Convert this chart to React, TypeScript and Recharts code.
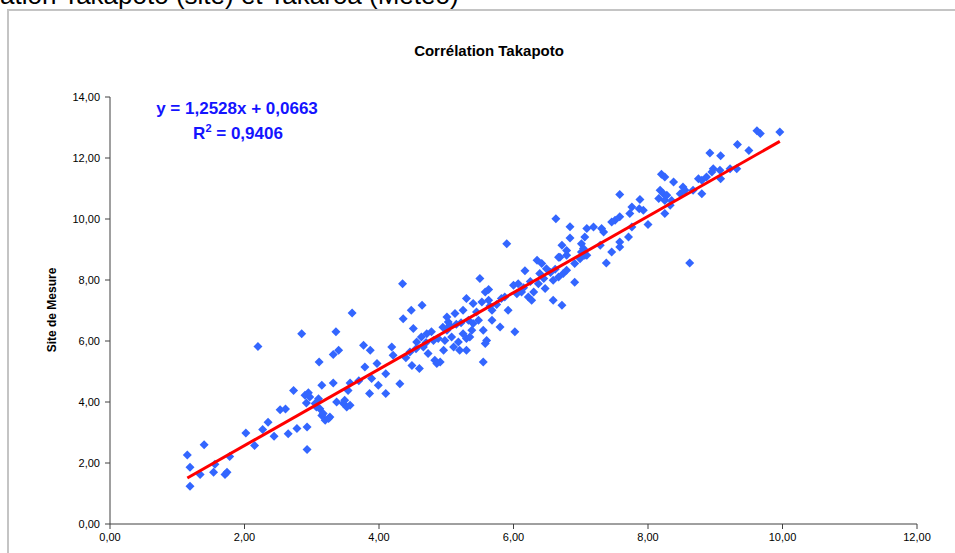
import React from 'react';
import { ScatterChart, Scatter, XAxis, YAxis } from 'recharts';

// Takapoto: meteo station (x) vs measurement site (y)
const meteoValues = [
  1.15, 1.40, 1.19, 1.34, 1.19, 1.54, 1.56, 1.71, 1.74, 1.78, 2.02, 2.15, 2.27, 2.35, 2.44, 2.53, 2.61, 2.65, 2.73, 2.78,
  2.90, 2.95, 2.93, 2.93, 2.92, 3.10, 3.12, 3.15, 3.15, 3.20, 3.27, 3.32, 3.37, 3.47, 3.52, 3.54, 3.57,
  2.85, 3.60, 3.36, 3.11, 3.32, 3.40, 2.97, 3.07, 3.17, 3.25, 3.49, 3.57, 3.77, 3.87, 3.79, 3.89, 3.97, 3.99, 3.86,
  4.10, 4.10, 4.19, 4.31, 4.21, 4.35, 4.36, 4.48, 4.64, 4.51, 4.46, 4.49, 4.60, 4.56, 4.63, 4.71, 4.78, 4.66, 4.73,
  4.83, 4.91, 4.86, 4.88, 4.81, 5.01, 5.03, 5.01, 5.08, 4.98, 4.96, 5.11, 5.18, 5.13, 5.25, 5.30, 5.40, 5.33, 5.40,
  5.48, 5.38, 5.25, 5.30, 5.20, 5.30, 5.35, 5.55, 5.60, 5.58, 5.55, 5.53, 5.63, 5.68, 5.68, 5.80, 5.50, 5.63, 5.58,
  5.92, 6.02, 5.82, 5.87, 6.00, 6.07, 6.17, 6.12, 6.22, 6.27, 6.30, 6.37, 6.39, 6.35, 6.42, 6.49, 6.47, 6.59, 6.72,
  6.59, 6.67, 6.74, 6.79, 6.69, 6.79, 6.91, 6.91, 6.99, 7.06, 7.01,
  9.96, 9.62, 9.67, 9.33, 9.50, 8.92, 9.08, 8.97, 8.95, 9.07, 9.08, 9.22, 9.32, 8.75, 8.80, 8.87, 8.67, 8.80, 8.52,
  8.55, 8.48, 8.38, 8.20, 8.25, 8.18, 8.23, 8.16, 8.25, 8.35, 8.33, 8.25, 8.28, 8.62, 8.00, 7.88, 7.87, 7.76, 7.73,
  7.93, 7.58, 7.58, 7.51, 7.46, 7.76, 7.71, 7.58, 7.58, 7.46, 7.38, 7.31, 7.34, 7.29, 7.19, 7.09, 7.06, 7.01, 6.84,
  6.84, 6.72, 6.79, 6.63, 6.67, 7.04, 7.09, 2.20, 5.90,
  4.95, 5.05, 5.15, 5.22, 5.45, 5.65, 5.75, 6.05, 6.15, 6.25, 6.45, 6.55, 6.62, 4.40, 4.55, 4.70, 3.70, 3.05,
];
const siteValues = [
  2.26, 2.60, 1.86, 1.62, 1.24, 1.70, 1.96, 1.62, 1.70, 2.21, 2.98, 2.57, 3.10, 3.34, 2.88, 3.75, 3.77, 2.96, 4.38, 3.13,
  4.22, 4.30, 3.18, 2.44, 3.97, 4.11, 3.78, 3.56, 4.55, 3.40, 3.51, 4.62, 4.00, 3.95, 3.84, 4.38, 4.62,
  6.24, 6.92, 6.30, 5.31, 5.56, 5.70, 4.16, 3.84, 3.62, 3.46, 4.06, 3.89, 5.86, 5.70, 5.15, 4.77, 5.26, 4.55, 4.28,
  4.93, 4.28, 5.80, 4.60, 5.53, 7.88, 6.73, 7.01, 7.17, 6.41, 5.64, 5.20, 5.10, 5.97, 6.13, 6.24, 6.30, 5.80, 5.59,
  5.37, 5.31, 5.26, 6.08, 6.02, 6.79, 6.62, 6.35, 6.13, 6.02, 5.70, 5.80, 5.97, 6.90, 7.01, 7.39, 7.23, 6.68, 6.57,
  6.68, 6.35, 6.24, 6.08, 5.70, 5.70, 6.13, 6.35, 6.02, 5.92, 5.31, 7.28, 7.34, 7.01, 6.68, 6.46, 8.05, 7.69, 7.61,
  7.01, 6.30, 7.39, 7.44, 7.83, 7.88, 8.30, 7.61, 7.44, 7.34, 7.61, 7.88, 8.21, 8.65, 8.54, 8.37, 7.72, 7.34, 7.17,
  7.99, 8.10, 8.21, 8.32, 8.75, 8.81, 8.54, 7.93, 8.70, 8.81, 8.92,
  12.85, 12.89, 12.80, 12.44, 12.25, 12.16, 12.07, 11.65, 11.54, 11.60, 11.32, 11.65, 11.65, 11.32, 11.27, 11.38, 10.94, 10.83, 11.05,
  10.94, 10.83, 11.21, 11.47, 11.38, 10.94, 10.83, 10.67, 10.61, 10.61, 10.45, 10.18, 10.78, 8.56, 9.82, 10.64, 10.34, 10.39, 10.18,
  10.29, 10.80, 10.07, 9.96, 9.90, 9.74, 9.41, 9.25, 9.08, 8.92, 8.56, 9.69, 9.57, 9.14, 9.74, 9.69, 9.41, 9.19, 9.75,
  9.38, 9.14, 8.97, 10.01, 8.75, 9.03, 8.81, 5.82, 9.19,
  6.45, 6.52, 6.55, 6.60, 6.95, 7.15, 7.20, 7.55, 7.75, 7.95, 8.05, 8.25, 8.35, 5.45, 5.75, 5.95, 4.70, 3.95,
];

const xTicks = [0, 2, 4, 6, 8, 10, 12];
const yTicks = [0, 2, 4, 6, 8, 10, 12, 14];

const SLOPE = 1.2528;
const INTERCEPT = 0.0663;

const points = meteoValues.map((x, i) => ({ x, y: siteValues[i] }));
const xMin = Math.min(...meteoValues);
const xMax = Math.max(...meteoValues);
const trend = [xMin, xMax].map((x) => ({ x, y: SLOPE * x + INTERCEPT }));

const fmt = (v: number) => v.toFixed(2).replace('.', ',');

const Diamond = (props: any) => {
  const { cx, cy } = props;
  const r = 4.5;
  return (
    <polygon
      points={`${cx},${cy - r} ${cx + r},${cy} ${cx},${cy + r} ${cx - r},${cy}`}
      fill="#3366ff"
    />
  );
};

const font = '"Liberation Sans", Arial, sans-serif';

export default function App() {
  return (
    <div style={{ position: 'absolute', left: 0, top: 0, width: 955, height: 553, overflow: 'hidden', background: '#fff' }}>
      <div
        style={{
          position: 'absolute',
          left: 7,
          top: 9,
          width: 1000,
          height: 600,
          borderLeft: '2px solid #c4c4c4',
          borderTop: '2px solid #c4c4c4',
        }}
      />
      <div style={{ position: 'absolute', left: 0, top: 0 }}>
        <ScatterChart width={955} height={553} margin={{ top: 97, right: 38, bottom: 4, left: 50 }}>
          <XAxis
            type="number"
            dataKey="x"
            domain={[0, 12]}
            ticks={xTicks}
            tickFormatter={fmt}
            height={25}
            tickSize={5}
            tickMargin={4}
            tick={{ fill: '#000', fontSize: 11, fontFamily: font }}
            stroke="#404040"
            allowDataOverflow
          />
          <YAxis
            type="number"
            dataKey="y"
            domain={[0, 14]}
            ticks={yTicks}
            tickFormatter={fmt}
            width={60}
            tickSize={5}
            tickMargin={5}
            tick={{ fill: '#000', fontSize: 11, fontFamily: font }}
            stroke="#404040"
            allowDataOverflow
          />
          <Scatter data={points} shape={Diamond} isAnimationActive={false} />
          <Scatter
            data={trend}
            line={{ stroke: '#ff0000', strokeWidth: 3 }}
            shape={() => null}
            isAnimationActive={false}
          />
        </ScatterChart>
      </div>
      <svg width={955} height={553} style={{ position: 'absolute', left: 0, top: 0, pointerEvents: 'none' }}>
        <text x={0} y={4} fontSize={26} fontFamily={font} fill="#000">
          ation Takapoto (site) et Takaroa (Météo)
        </text>
        <text x={489} y={56} fontSize={15} fontWeight="bold" fontFamily={font} textAnchor="middle" fill="#000">
          Corrélation Takapoto
        </text>
        <text x={237} y={114} fontSize={17} fontWeight="bold" fontFamily={font} textAnchor="middle" fill="#1414ff">
          y = 1,2528x + 0,0663
        </text>
        <text x={238} y={139} fontSize={17} fontWeight="bold" fontFamily={font} textAnchor="middle" fill="#1414ff">
          R<tspan dy={-7} fontSize={11}>2</tspan>
          <tspan dy={7}> = 0,9406</tspan>
        </text>
        <text
          x={53}
          y={310}
          fontSize={12}
          fontWeight="bold"
          fontFamily={font}
          textAnchor="middle"
          dominantBaseline="middle"
          transform="rotate(-90 53 310)"
          fill="#000"
        >
          Site de Mesure
        </text>
      </svg>
    </div>
  );
}
